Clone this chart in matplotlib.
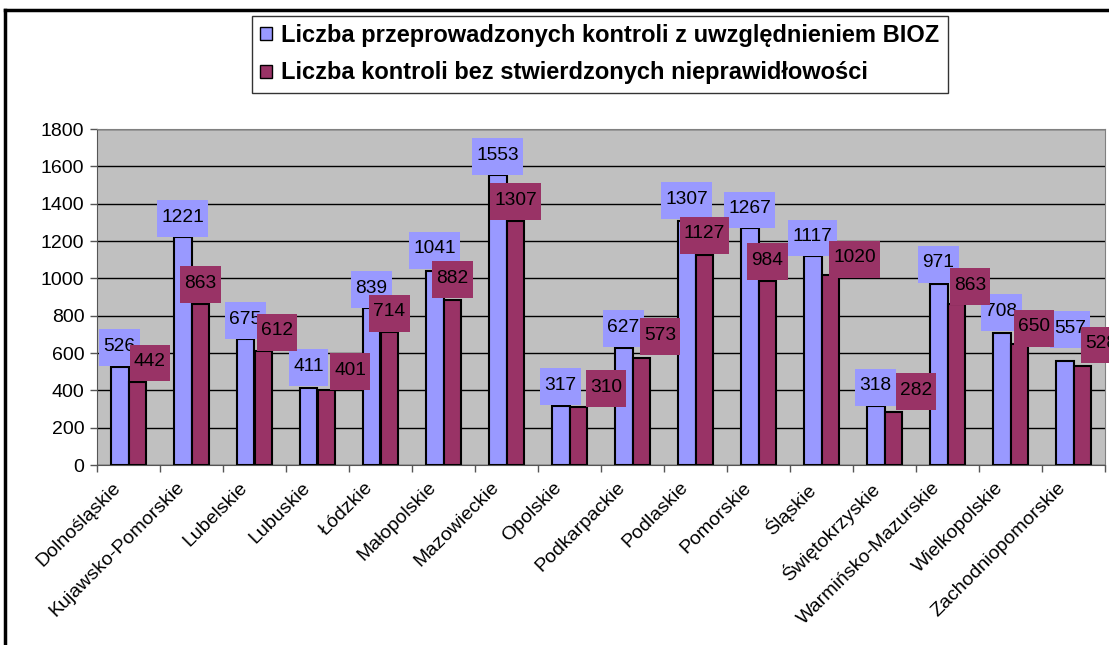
import numpy as np
import matplotlib
matplotlib.use("Agg")
import matplotlib.pyplot as plt
import matplotlib.transforms as mtransforms
from matplotlib.lines import Line2D
from matplotlib.patches import Patch
from matplotlib.path import Path

plt.rcParams["font.family"] = ["Liberation Sans", "DejaVu Sans"]

regions = [
    "Dolnośląskie", "Kujawsko-Pomorskie", "Lubelskie", "Lubuskie", "Łódzkie",
    "Małopolskie", "Mazowieckie", "Opolskie", "Podkarpackie", "Podlaskie",
    "Pomorskie", "Śląskie", "Świętokrzyskie", "Warmińsko-Mazurskie",
    "Wielkopolskie", "Zachodniopomorskie",
]
controls_total = [526, 1221, 675, 411, 839, 1041, 1553, 317, 627, 1307,
                  1267, 1117, 318, 971, 708, 557]
controls_ok = [442, 863, 612, 401, 714, 882, 1307, 310, 573, 1127,
               984, 1020, 282, 863, 650, 528]
series_names = [
    "Liczba przeprowadzonych kontroli z uwzględnieniem BIOZ",
    "Liczba kontroli bez stwierdzonych nieprawidłowości",
]

# hand-placed label nudges in the original (pixels, right / up)
blue_dx = [0, 0, 0, 0, 0, 0, 0, 0, 0, 0, 0, 0, 0, 0, 0, 5.5]
blue_dy = [1, 0, 0, 2, 0, 2, 0, 1, 1, 2, 0, 0, 0, 1, 2, 13]
red_dx = [12.5, 0, 13.5, 23.5, 0, 0, 0, 27.5, 18.5, 0, 0, 24, 22.5, 13.5, 14.5, 18.5]
red_dy = [1, 1, 0, 0, 0, 2, 1, 0, 3, 1, 1, -3, 2, -1, -3, 3]

blue = "#9999FF"
maroon = "#993366"
px = 72 / 100  # points per pixel at dpi 100


def label_box(x0, y0, width, height, mutation_size):
    # Excel-like data label box: more room under the digits than above
    l = x0 - 0.22 * mutation_size
    r = x0 + width + 0.22 * mutation_size
    b = y0 - 0.59 * mutation_size
    t = y0 + height + 0.45 * mutation_size
    return Path([(l, b), (r, b), (r, t), (l, t), (l, b)], closed=True)


fig = plt.figure(figsize=(11.09, 6.45), dpi=100)
ax = fig.add_axes([97 / 1109, 1 - 465 / 645, (1105 - 97) / 1109, (465 - 129) / 645])
ax.set_facecolor("#C0C0C0")

x = np.arange(len(regions))
w = 0.285
ax.bar(x - w / 2, controls_total, w, color=blue, edgecolor="black", linewidth=1.5, zorder=3)
ax.bar(x + w / 2, controls_ok, w, color=maroon, edgecolor="black", linewidth=1.5, zorder=3)

fs_lab = 13.8
bottom_pad = 0.59 * fs_lab / px  # in pixels
for xi, v, dx, dy in zip(x - w / 2, controls_total, blue_dx, blue_dy):
    ax.annotate(str(v), (xi, v), xytext=(dx * px, (bottom_pad + dy) * px),
                textcoords="offset points", ha="center", va="bottom",
                fontsize=fs_lab, zorder=5, annotation_clip=False,
                bbox=dict(boxstyle=label_box, fc=blue, ec="none"))
for xi, v, dx, dy in zip(x + w / 2, controls_ok, red_dx, red_dy):
    ax.annotate(str(v), (xi, v), xytext=(dx * px, (bottom_pad + dy) * px),
                textcoords="offset points", ha="center", va="bottom",
                fontsize=fs_lab, zorder=6, annotation_clip=False,
                bbox=dict(boxstyle=label_box, fc=maroon, ec="none"))

ax.set_xlim(-0.5, len(regions) - 0.5)
ax.set_ylim(0, 1800)
ax.set_yticks(np.arange(0, 1801, 200))
ax.yaxis.grid(True, color="black", linewidth=1, zorder=1)
ax.set_axisbelow(True)
ax.tick_params(axis="y", labelsize=14, length=5, width=1, color="#555555", pad=4)

ax.set_xticks(np.arange(-0.5, len(regions), 1))
ax.set_xticklabels([])
ax.set_xticks(x, minor=True)
ax.set_xticklabels(regions, minor=True, rotation=45, ha="right",
                   rotation_mode="anchor", fontsize=14)
ax.tick_params(axis="x", which="major", length=5, width=1, color="#555555")
ax.tick_params(axis="x", which="minor", length=0, pad=10)
shift = mtransforms.ScaledTranslation(-16 / 100, 0, fig.dpi_scale_trans)
for lab in ax.get_xticklabels(minor=True):
    lab.set_transform(lab.get_transform() + shift)

for s in ["top", "right"]:
    ax.spines[s].set_color("#808080")
for s in ["left", "bottom"]:
    ax.spines[s].set_color("#555555")

handles = [Patch(facecolor=blue, edgecolor="black"),
           Patch(facecolor=maroon, edgecolor="black")]
leg = fig.legend(handles, series_names, loc="upper center",
                 bbox_to_anchor=(600 / 1109, 1 - 16 / 645),
                 prop={"weight": "bold", "size": 17},
                 frameon=True, fancybox=False, edgecolor="black",
                 handlelength=0.47, handleheight=0.47, handletextpad=0.42,
                 labelspacing=0.6, borderpad=0.35, borderaxespad=0)
leg.get_frame().set_linewidth(1)

# outer frame of the document box
fig.add_artist(Line2D([5 / 1109, 5 / 1109], [0, 1 - 10 / 645], color="black", lw=2.5))
fig.add_artist(Line2D([5 / 1109, 1], [1 - 10 / 645, 1 - 10 / 645], color="black", lw=2.5))

fig.savefig("out.png", dpi=100)
